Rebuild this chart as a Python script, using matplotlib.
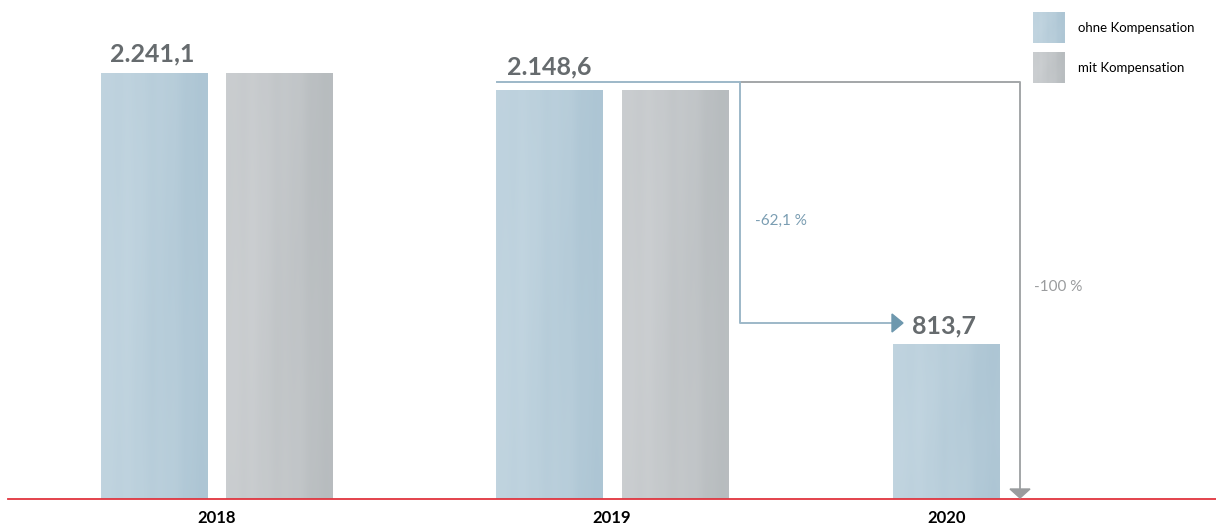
import matplotlib.pyplot as plt
import numpy as np
from matplotlib.patches import Polygon

plt.rcParams['font.family'] = ['Lato', 'DejaVu Sans']

# Data
years = ['2018', '2019', '2020']
ohne = [2241.1, 2148.6, 813.7]
mit = [2241.1, 2148.6, 0.0]
value_labels = ['2.241,1', '2.148,6', '813,7']
change_ohne = '-62,1 %'
change_mit = '-100 %'

# Layout (pixel positions of the original picture)
W, H = 1216, 529
base_px = 499
px_per_unit = 0.1899
blue_x = [154.5, 549.5, 946.5]
grey_x = [279.5, 675.5, None]
bar_w = 107
year_x = [217, 612, 946.5]

blue_light, blue_dark = np.array([0.78, 0.85, 0.89]), np.array([0.66, 0.76, 0.82])
grey_light, grey_dark = np.array([0.82, 0.83, 0.84]), np.array([0.70, 0.72, 0.73])


def v(py):
    """Convert a vertical pixel position into a value on the y axis."""
    return (base_px - py) / px_per_unit


def texture(light, dark, n=120, m=40):
    # soft vertical streaks, lighter on the left, darker to the right
    u = np.linspace(0, 1, n)
    w = np.linspace(0, 1, m)[:, None]
    prof = 0.2 + 0.65 * u ** 1.4 + 0.04 * np.sin(u * 17) + 0.025 * np.sin(u * 41 + 1)
    prof = prof[None, :] + 0.03 * np.sin(w * 6 + u[None, :] * 8)
    prof = np.clip(prof, 0, 1)[..., None]
    return light * (1 - prof) + dark * prof


def draw_bar(ax, x, val, light, dark):
    bar = ax.bar(x, val, width=bar_w, bottom=0, color=dark, zorder=2)[0]
    ax.imshow(texture(light, dark), extent=[bar.get_x(), bar.get_x() + bar.get_width(),
                                            0, bar.get_height()],
              aspect='auto', zorder=3, interpolation='bilinear')


fig = plt.figure(figsize=(W / 100, H / 100), dpi=100)
ax = fig.add_axes([0, 0, 1, 1])
ax.set_xlim(0, W)
ax.set_ylim(v(H), v(0))
ax.axis('off')

for i in range(3):
    draw_bar(ax, blue_x[i], ohne[i], blue_light, blue_dark)
    if mit[i] > 0:
        draw_bar(ax, grey_x[i], mit[i], grey_light, grey_dark)

# baseline
ax.plot([8, W], [0, 0], color='#e0343e', lw=1.3, zorder=5)

# value labels
label_col = '#666b6e'
ax.text(110, v(61), value_labels[0], fontsize=18,
        fontweight='bold', color=label_col, ha='left', va='baseline')
ax.text(507, v(74), value_labels[1], fontsize=18,
        fontweight='bold', color=label_col, ha='left', va='baseline')
ax.text(912, v(333), value_labels[2], fontsize=18,
        fontweight='bold', color=label_col, ha='left', va='baseline')

# year labels
for x, y in zip(year_x, years):
    ax.text(x, v(518), y, fontsize=12, fontweight='bold', color='black',
            ha='center', va='center')

# change arrows
top = v(82)
low = v(323)
blue_line = '#9db8c8'
grey_line = '#a3a6a8'
ax.plot([497, 740], [top, top], color=blue_line, lw=1.4, zorder=4)
ax.plot([740, 1020, 1020], [top, top, v(489)], color=grey_line, lw=1.4, zorder=4)
ax.plot([740, 740, 892], [top, low, low], color=blue_line, lw=1.4, zorder=4)
ax.add_patch(Polygon([[892, low + 9 / px_per_unit], [903, low], [892, low - 9 / px_per_unit]],
                     closed=True, color='#6e98ae', zorder=5))
ax.add_patch(Polygon([[1010, v(489)], [1030, v(489)], [1020, v(498)]],
                     closed=True, color='#9a9c9e', zorder=6))
ax.text(755, v(221), change_ohne, fontsize=11, color='#7a9db2', ha='left', va='center')
ax.text(1034, v(287), change_mit, fontsize=11, color='#9a9c9e', ha='left', va='center')

# legend
for i, (name, light, dark) in enumerate([('ohne Kompensation', blue_light, blue_dark),
                                         ('mit Kompensation', grey_light, grey_dark)]):
    y0 = 12 + 40 * i
    ax.imshow(texture(light, dark), extent=[1033, 1065, v(y0 + 31), v(y0)],
              aspect='auto', zorder=3, interpolation='bilinear')
    ax.text(1078, v(y0 + 16), name, fontsize=9.5, color='black', ha='left', va='center')

ax.set_xlim(0, W)
ax.set_ylim(v(H), v(0))
fig.savefig('out.png', dpi=100)
